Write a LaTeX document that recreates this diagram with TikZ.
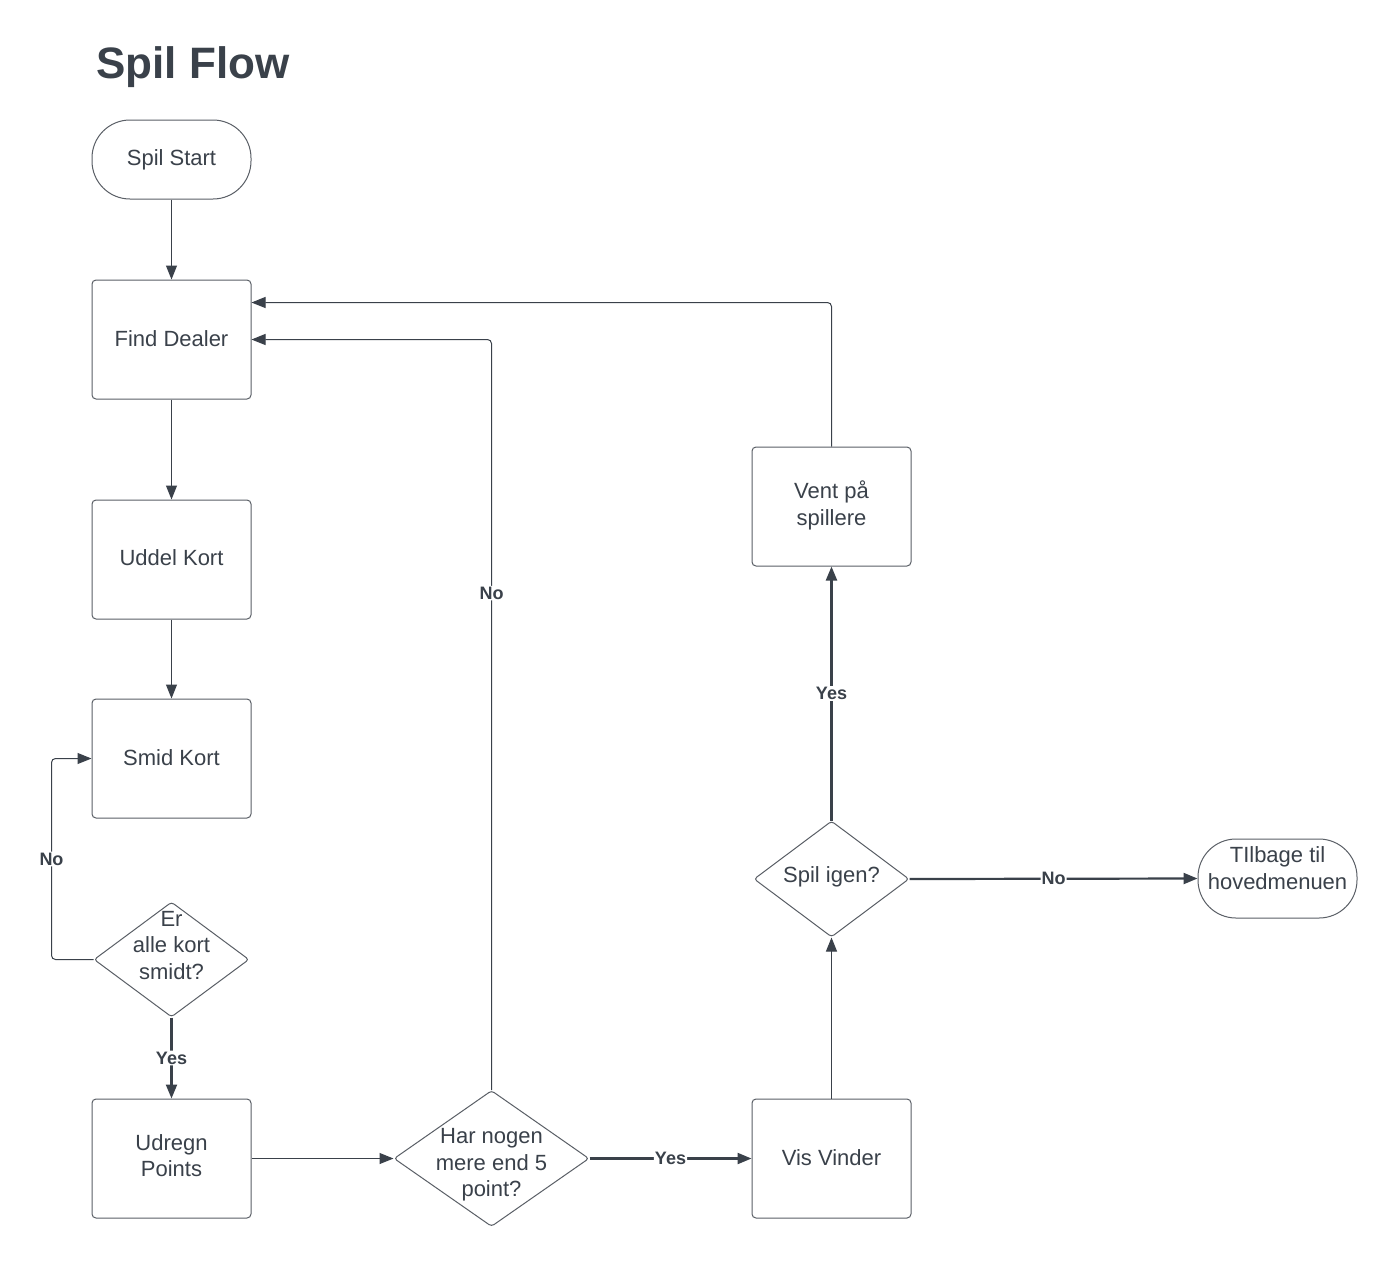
\documentclass[tikz,border=0pt]{standalone}
\usepackage{fontspec}
\setmainfont{Liberation Sans}
\usetikzlibrary{arrows.meta,shapes.geometric,calc}
\definecolor{ink}{HTML}{3A414A}
\definecolor{edge}{HTML}{5A5F66}
\tikzset{
  every node/.style={text=ink},
  base/.style={draw=edge, line width=1pt, fill=white, inner sep=0pt, align=center,
    font=\fontsize{22}{27}\selectfont},
  box/.style={base, rectangle, rounded corners=4pt, minimum width=159pt, minimum height=119pt},
  pill/.style={base, rectangle, rounded corners=38pt, minimum width=159pt, minimum height=79pt},
  decision/.style={base, diamond, rounded corners=3pt},
  conn/.style={draw=ink, line width=1pt, rounded corners=4pt, -{Triangle[length=14pt,width=11pt]}},
  heavy/.style={line width=2.2pt},
  lbl/.style={fill=white, inner sep=1pt, font=\fontsize{18}{20}\selectfont\bfseries},
  dtext/.style={font=\fontsize{22}{26.5}\selectfont, align=center, text=ink}
}
\begin{document}
\begin{tikzpicture}[x=1pt,y=-1pt]
\useasboundingbox[fill=white] (0,0) rectangle (1398,1270);
\node[anchor=base west, font=\fontsize{44}{50}\selectfont\bfseries] (title) at (93,78) {Spil Flow};

\node[pill] (start) at (171.5,159.5) {};
\node[dtext] (starttext) at (171.5,159.5) {Spil Start};
\node[box] (find) at (171.5,339.5) {};
\node[dtext] (findtext) at (171.5,338.5) {Find Dealer};
\node[box] (uddel) at (171.5,559.5) {};
\node[dtext] (uddeltext) at (171.5,558) {Uddel Kort};
\node[box] (smid) at (171.5,758.5) {};
\node[dtext] (smidtext) at (171.5,757.5) {Smid Kort};
\node[decision, minimum width=155pt, minimum height=115pt] (er) at (171.5,959.5) {};
\node[dtext] (ertext) at (171.5,945.5) {Er\\alle kort\\smidt?};
\node[box] (udregn) at (171.5,1158.5) {};
\node[dtext] (udregntext) at (171.5,1155.5) {Udregn\\Points};
\node[decision, minimum width=195pt, minimum height=136pt] (har) at (491.5,1158.5) {};
\node[dtext] (hartext) at (491.5,1165) {Har nogen\\mere end 5\\point?};
\node[box] (vis) at (831.5,1158.5) {};
\node[dtext] (vistext) at (831.5,1157.5) {Vis Vinder};
\node[decision, minimum width=155pt, minimum height=116pt] (spil) at (831.5,879) {};
\node[dtext] (spiltext) at (831.5,877) {Spil igen?};
\node[box] (vent) at (831.5,506.5) {};
\node[dtext] (venttext) at (831.5,505.5) {Vent på\\spillere};
\node[pill] (tilbage) at (1277.5,878.5) {};
\node[dtext] (tilbagetext) at (1277.5,868) {TIlbage til\\hovedmenuen};

\draw[conn] (start) -- (find);
\draw[conn] (find) -- (uddel);
\draw[conn] (uddel) -- (smid);
\draw[conn] (er.west) -- ++(-42,0) |- node[lbl, pos=0.25] {No} (smid.west);
\draw[conn, heavy] (er.south) -- node[lbl] {Yes} (udregn.north);
\draw[conn] (udregn.east) -- (har.west);
\draw[conn] (har.north) |- node[lbl, pos=0.331] {No} (find.east);
\draw[conn, heavy] (har.east) -- node[lbl] {Yes} (vis.west);
\draw[conn] (vis.north) -- (spil.south);
\draw[conn, heavy] (spil.north) -- node[lbl] {Yes} (vent.south);
\draw[conn] (vent.north) |- ([yshift=-23pt]find.north east);
\draw[conn, heavy] (spil.east) -- node[lbl] {No} (tilbage.west);
\end{tikzpicture}
\end{document}
